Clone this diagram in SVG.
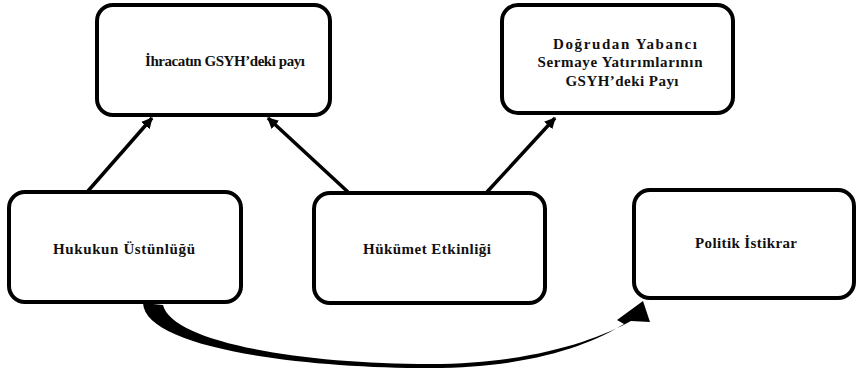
<svg xmlns="http://www.w3.org/2000/svg" width="858" height="374" viewBox="0 0 858 374">
<style>
.box{fill:#fff;stroke:#000;stroke-width:4}
.t{font-family:'Liberation Serif','DejaVu Serif','Times New Roman',serif;font-size:15px;font-weight:bold;fill:#111;text-anchor:middle}
.c{stroke:#000;stroke-width:3.5;fill:none}
</style>
<defs>
<marker id="ah" viewBox="0 0 10 10" refX="9" refY="5" markerWidth="3.2" markerHeight="3.2" orient="auto" markerUnits="strokeWidth">
<path d="M0,0 L10,5 L0,10 Z" fill="#000"/>
</marker>
</defs>
<rect width="858" height="374" fill="#fff"/>
<g id="connectors">
<line class="c" x1="88" y1="191" x2="152" y2="118" marker-end="url(#ah)"/>
<line class="c" x1="348" y1="192" x2="268" y2="118" marker-end="url(#ah)"/>
<line class="c" x1="487" y1="192" x2="555" y2="118" marker-end="url(#ah)"/>
<path d="M143,303 C145,348 300,368 430,368 C530,368 590,345 624,324 L617,320 L643,301 L650,322 L631,321 C597,340 530,364 430,364 C300,364 172,342 163,305 Z" fill="#000"/>
</g>
<g id="n1">
<rect class="box" x="97" y="5" width="233" height="110" rx="16"/>
<text class="t" x="225" y="66" textLength="160" lengthAdjust="spacing">İhracatın GSYH’deki payı</text>
</g>
<g id="n2">
<rect class="box" x="502" y="5" width="231" height="108" rx="16"/>
<text class="t" x="625" y="49" textLength="144" lengthAdjust="spacing">Doğrudan Yabancı</text>
<text class="t" x="620" y="67" textLength="165" lengthAdjust="spacing">Sermaye Yatırımlarının</text>
<text class="t" x="622" y="86" textLength="113" lengthAdjust="spacing">GSYH’deki Payı</text>
</g>
<g id="n3">
<rect class="box" x="9" y="192" width="232" height="110" rx="16"/>
<text class="t" x="124" y="254" textLength="142" lengthAdjust="spacing">Hukukun Üstünlüğü</text>
</g>
<g id="n4">
<rect class="box" x="314" y="193" width="231" height="110" rx="16"/>
<text class="t" x="427" y="254" textLength="128" lengthAdjust="spacing">Hükümet Etkinliği</text>
</g>
<g id="n5">
<rect class="box" x="634" y="190" width="220" height="108" rx="16"/>
<text class="t" x="746" y="248" textLength="102" lengthAdjust="spacing">Politik İstikrar</text>
</g>
</svg>
